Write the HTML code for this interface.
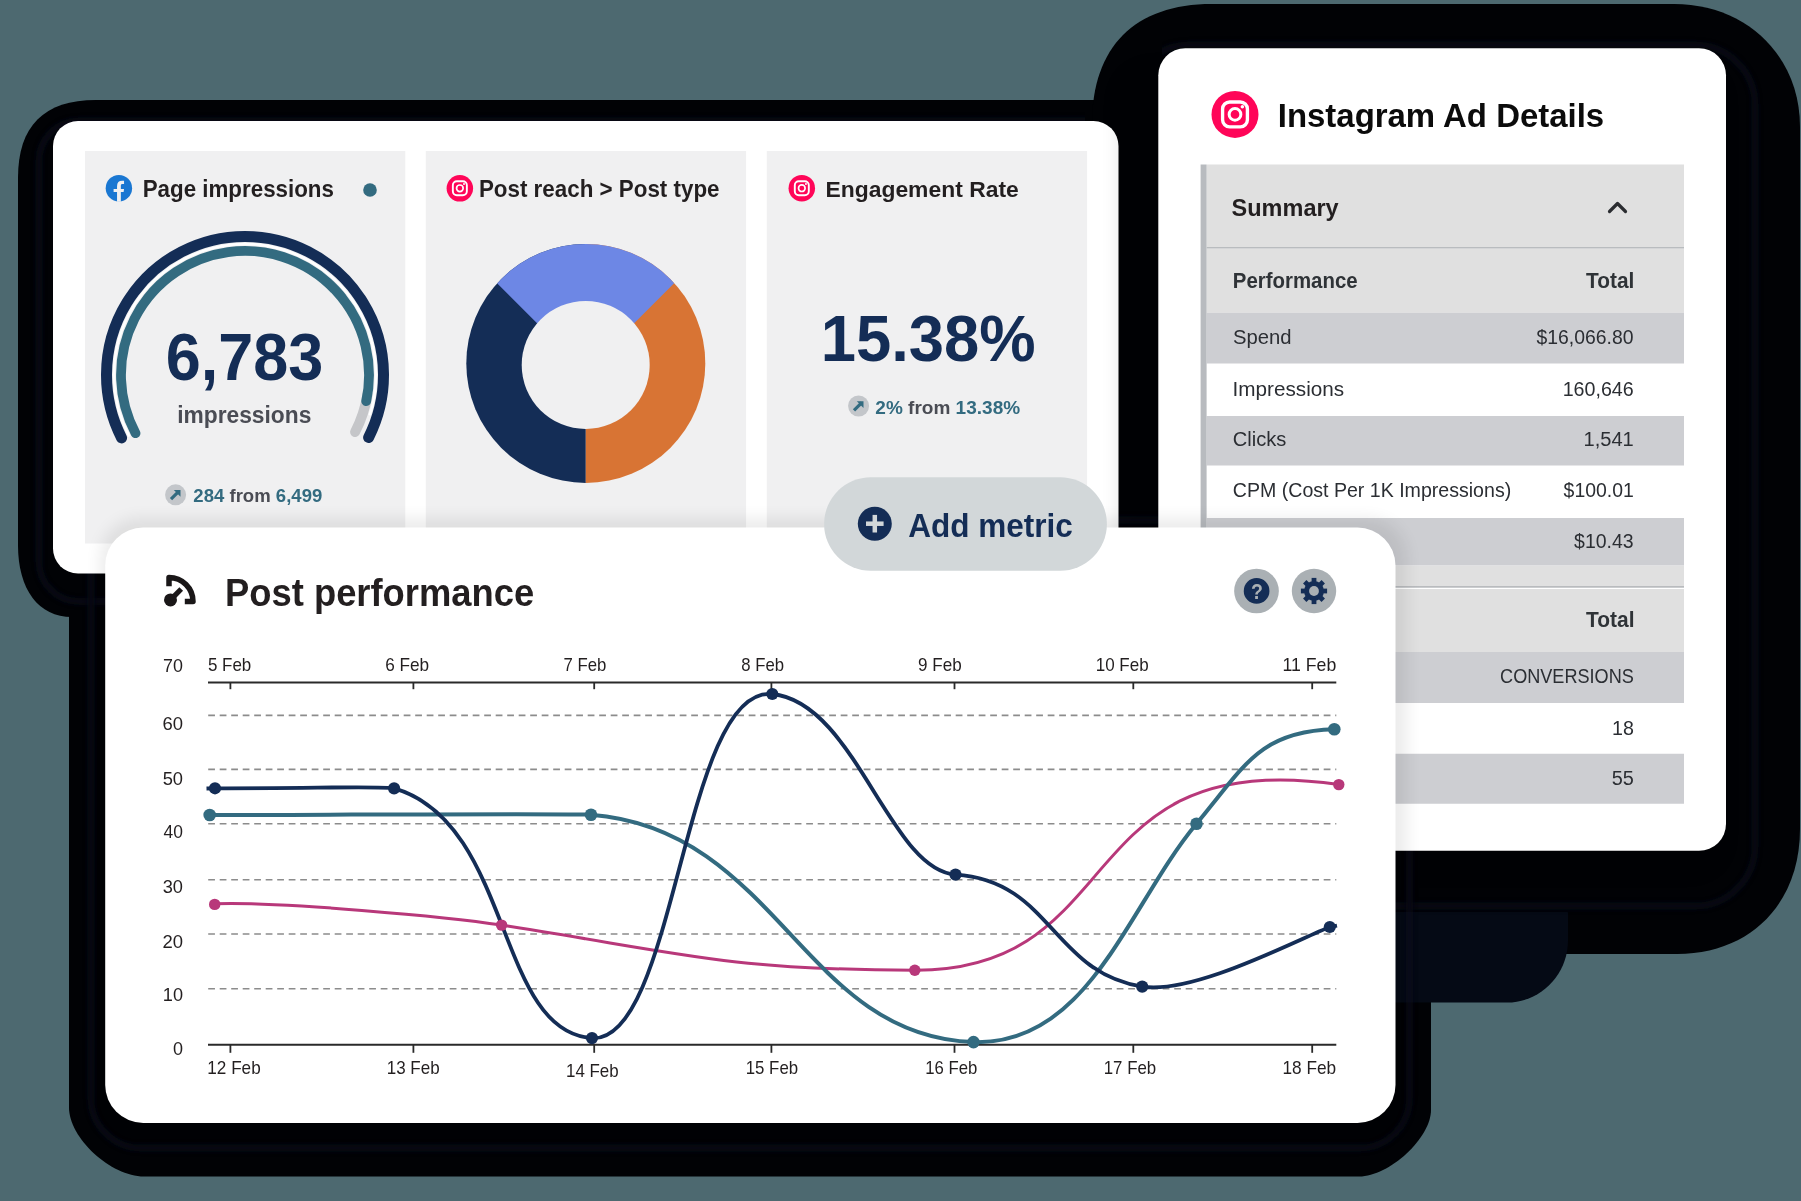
<!DOCTYPE html>
<html><head><meta charset="utf-8"><title>Dashboard</title>
<style>
html,body{margin:0;padding:0;background:#4d6970;}
body{width:1801px;height:1201px;overflow:hidden;}
svg{display:block;font-family:"Liberation Sans",sans-serif;will-change:transform;}
text{-webkit-font-smoothing:antialiased;}
</style></head>
<body>
<svg width="1801" height="1201" viewBox="0 0 1801 1201">
<rect width="1801" height="1201" fill="#4d6970"/>
<path fill="#010205" d="M96.00,100.00 L1120.00,100.00 C1142.00,100.00 1160.00,118.00 1160.00,140.00 L1160.00,577.00 C1160.00,599.00 1142.00,617.00 1120.00,617.00 L72.00,617.00 C38.52,617.00 18.00,589.64 18.00,545.00 L18.00,178.00 C18.00,125.97 43.97,100.00 96.00,100.00Z"/>
<path fill="#010205" d="M1212.00,4.00 L1674.00,4.00 C1746.58,4.00 1800.00,56.15 1800.00,127.00 L1800.00,829.00 C1800.00,903.62 1750.43,954.00 1677.00,954.00 L1172.00,954.00 C1128.00,954.00 1092.00,918.00 1092.00,874.00 L1092.00,124.00 C1092.00,46.72 1134.72,4.00 1212.00,4.00Z"/>
<path fill="#010205" d="M139.00,505.00 L1391.00,505.00 C1413.00,505.00 1431.00,523.00 1431.00,545.00 L1431.00,1110.00 C1431.00,1137.93 1389.24,1176.50 1359.00,1176.50 L144.00,1176.50 C110.70,1176.50 69.00,1138.14 69.00,1107.50 L69.00,575.00 C69.00,536.50 100.50,505.00 139.00,505.00Z"/>
<path fill="#050a15" d="M1396.00,912.00 L1567.00,912.00 C1567.55,912.00 1568.00,912.45 1568.00,913.00 L1568.00,940.50 C1568.00,974.60 1540.55,1002.50 1507.00,1002.50 L1396.00,1002.50 C1395.45,1002.50 1395.00,1002.05 1395.00,1001.50 L1395.00,913.00 C1395.00,912.45 1395.45,912.00 1396.00,912.00Z"/>
<defs><filter id="rb" x="-5%" y="-5%" width="110%" height="110%"><feGaussianBlur stdDeviation="2.2"/></filter></defs>
<defs><clipPath id="c1"><rect x="0" y="0" width="1085" height="1201"/></clipPath><clipPath id="c2"><rect x="1162" y="0" width="700" height="1201"/></clipPath></defs>
<g fill="none" stroke="#07101f" stroke-width="7" opacity="0.6">
<g clip-path="url(#c1)"><rect x="39" y="121" width="1093.5" height="480.5" rx="40" filter="url(#rb)"/></g>
<g clip-path="url(#c2)"><rect x="1129.3" y="45" width="625.7" height="861" rx="60" filter="url(#rb)"/></g>
<rect x="91" y="520" width="1318.5" height="628" rx="50" filter="url(#rb)"/>
</g>
<rect x="53" y="121" width="1065.5" height="452.5" rx="25" fill="#fff"/>
<rect x="85" y="151" width="320.3" height="392.5" fill="#f0f0f1"/>
<rect x="425.8" y="151" width="320.3" height="392.5" fill="#f0f0f1"/>
<rect x="766.8" y="151" width="320.3" height="392.5" fill="#f0f0f1"/>
<defs><filter id="sb2" x="-20%" y="-20%" width="140%" height="140%"><feGaussianBlur stdDeviation="10"/></filter></defs>
<rect x="1121" y="70" width="600" height="800" rx="30" fill="#000" opacity="0.12" filter="url(#sb2)"/>
<rect x="1158.3" y="48.3" width="567.7" height="802.5" rx="27" fill="#fff"/>
<circle cx="118.9" cy="188.2" r="13.2" fill="#1a77d2"/>
<path d="M117.05,201.80 L117.05,192.00 L113.60,192.00 L113.60,189.00 L117.05,189.00 L117.05,186.30 C117.05,182.60 118.90,180.80 122.20,180.80 L124.05,180.80 L124.05,184.00 L122.60,184.00 C121.30,184.00 120.85,184.60 120.85,185.90 L120.85,189.00 L124.05,189.00 L123.60,192.00 L120.85,192.00 L120.85,201.80 Z" fill="#f0f0f1"/>
<text x="142.69" y="196.60" font-size="23.26" font-weight="700" fill="#231f20" textLength="191.24" lengthAdjust="spacingAndGlyphs">Page impressions</text>
<circle cx="370" cy="190" r="6.8" fill="#336b80"/>
<path d="M129.33,436.50 A131,131 0 1 1 369.59,415.48" fill="none" stroke="#ffffff" stroke-width="2.4" stroke-linecap="butt"/>
<path d="M121.60,437.88 A138.5,138.5 0 1 1 368.62,437.45" fill="none" stroke="#142d56" stroke-width="11" stroke-linecap="round"/>
<path d="M367.47,394.40 A124,124 0 0 1 355.09,432.06" fill="none" stroke="#c5c6c9" stroke-width="10" stroke-linecap="round"/>
<path d="M135.51,433.21 A124,124 0 1 1 366.20,401.20" fill="none" stroke="#336b80" stroke-width="9.8" stroke-linecap="round"/>
<text x="165.64" y="380.00" font-size="65.99" font-weight="700" fill="#142d56" textLength="157.57" lengthAdjust="spacingAndGlyphs">6,783</text>
<text x="177.21" y="423.00" font-size="24.55" font-weight="700" fill="#4a4c54" textLength="134.13" lengthAdjust="spacingAndGlyphs">impressions</text>
<circle cx="175.6" cy="494.8" r="10.5" fill="#c3c6ca"/>
<path d="M171.00,499.20 L178.80,491.40" stroke="#336b80" stroke-width="3.2" fill="none"/>
<path d="M173.80,490.00 L180.50,490.00 L180.50,496.70 Z" fill="#336b80"/>
<text x="193.35" y="502.00" font-size="18.02" font-weight="700" fill="#336b80" textLength="128.93" lengthAdjust="spacingAndGlyphs"><tspan fill="#336b80">284 </tspan><tspan fill="#4a4c54">from </tspan><tspan fill="#336b80">6,499</tspan></text>
<circle cx="459.85" cy="188.3" r="13.25" fill="#ff0558"/>
<rect x="452.85" y="181.30" width="14.00" height="14.00" rx="4.00" fill="none" stroke="#fff" stroke-width="1.90"/>
<circle cx="459.85" cy="188.30" r="3.30" fill="none" stroke="#fff" stroke-width="1.70"/>
<circle cx="464.00" cy="184.00" r="1.00" fill="#fff"/>
<text x="478.89" y="196.60" font-size="23.26" font-weight="700" fill="#231f20" textLength="240.68" lengthAdjust="spacingAndGlyphs">Post reach &gt; Post type</text>
<defs><clipPath id="dl"><rect x="455.79999999999995" y="233.39999999999998" width="130" height="260"/></clipPath><clipPath id="dr"><rect x="585.8" y="233.39999999999998" width="130" height="260"/></clipPath><clipPath id="dw"><path d="M585.6,371.8 L385.6,171.8 L785.6,171.8 Z"/></clipPath></defs>
<circle cx="585.8" cy="363.4" r="119.5" fill="#142d56" clip-path="url(#dl)"/>
<circle cx="585.8" cy="363.4" r="119.5" fill="#d87434" clip-path="url(#dr)"/>
<circle cx="585.8" cy="363.4" r="119.5" fill="#6d87e5" clip-path="url(#dw)"/>
<circle cx="585.7" cy="364.9" r="64" fill="#f0f0f1"/>
<circle cx="801.8" cy="188.2" r="13.25" fill="#ff0558"/>
<rect x="794.80" y="181.20" width="14.00" height="14.00" rx="4.00" fill="none" stroke="#fff" stroke-width="1.90"/>
<circle cx="801.80" cy="188.20" r="3.30" fill="none" stroke="#fff" stroke-width="1.70"/>
<circle cx="805.95" cy="183.90" r="1.00" fill="#fff"/>
<text x="825.46" y="197.00" font-size="22.67" font-weight="700" fill="#231f20" textLength="193.32" lengthAdjust="spacingAndGlyphs">Engagement Rate</text>
<text x="820.74" y="360.60" font-size="65.70" font-weight="700" fill="#142d56" textLength="214.95" lengthAdjust="spacingAndGlyphs">15.38%</text>
<circle cx="858.6" cy="406" r="10.5" fill="#c3c6ca"/>
<path d="M854.00,410.40 L861.80,402.60" stroke="#336b80" stroke-width="3.2" fill="none"/>
<path d="M856.80,401.20 L863.50,401.20 L863.50,407.90 Z" fill="#336b80"/>
<text x="875.33" y="413.70" font-size="18.46" font-weight="700" fill="#336b80" textLength="144.79" lengthAdjust="spacingAndGlyphs"><tspan fill="#336b80">2% </tspan><tspan fill="#4a4c54">from </tspan><tspan fill="#336b80">13.38%</tspan></text>
<circle cx="1235" cy="114.4" r="23.5" fill="#ff0558"/>
<rect x="1222.58" y="101.98" width="24.83" height="24.83" rx="7.09" fill="none" stroke="#fff" stroke-width="3.37"/>
<circle cx="1235.00" cy="114.40" r="5.85" fill="none" stroke="#fff" stroke-width="3.02"/>
<circle cx="1242.36" cy="106.77" r="1.77" fill="#fff"/>
<text x="1277.78" y="127.00" font-size="34.01" font-weight="700" fill="#0b0b0b" textLength="326.36" lengthAdjust="spacingAndGlyphs">Instagram Ad Details</text>
<rect x="1206.6" y="164.5" width="477.40" height="82.50" fill="#e0e0e0"/>
<rect x="1206.6" y="247.2" width="477.40" height="1.30" fill="#a9acb0"/>
<rect x="1206.6" y="249" width="477.40" height="63.70" fill="#e0e0e0"/>
<rect x="1206.6" y="312.7" width="477.40" height="51.00" fill="#cdced2"/>
<rect x="1206.6" y="363.7" width="477.40" height="52.30" fill="#fff"/>
<rect x="1206.6" y="416" width="477.40" height="49.70" fill="#cdced2"/>
<rect x="1206.6" y="465.7" width="477.40" height="52.30" fill="#fff"/>
<rect x="1206.6" y="518" width="477.40" height="47.60" fill="#cdced2"/>
<rect x="1206.6" y="565.6" width="477.40" height="21.40" fill="#e0e0e0"/>
<rect x="1206.6" y="586.3" width="477.40" height="1.30" fill="#a9acb0"/>
<rect x="1206.6" y="589" width="477.40" height="63.00" fill="#e0e0e0"/>
<rect x="1206.6" y="652" width="477.40" height="51.00" fill="#cdced2"/>
<rect x="1206.6" y="703" width="477.40" height="50.75" fill="#fff"/>
<rect x="1206.6" y="753.75" width="477.40" height="50.00" fill="#cdced2"/>
<rect x="1200.6" y="164.5" width="6" height="639.25" fill="#b8bbbf"/>
<text x="1231.59" y="216.20" font-size="24.56" font-weight="700" fill="#231f20" textLength="107.13" lengthAdjust="spacingAndGlyphs">Summary</text>
<path d="M1609.5,211.5 L1617.5,203.5 L1625.5,211.5" fill="none" stroke="#2a2c30" stroke-width="3.2" stroke-linecap="round" stroke-linejoin="round"/>
<text x="1232.82" y="288.20" font-size="21.37" font-weight="700" fill="#2f3337" textLength="124.77" lengthAdjust="spacingAndGlyphs">Performance</text>
<text x="1586.09" y="288.20" font-size="21.37" font-weight="700" fill="#2f3337" textLength="48.26" lengthAdjust="spacingAndGlyphs">Total</text>
<text x="1232.89" y="344.20" font-size="20.64" font-weight="400" fill="#2b2e33" textLength="58.61" lengthAdjust="spacingAndGlyphs">Spend</text>
<text x="1536.51" y="344.10" font-size="20.64" font-weight="400" fill="#2b2e33" textLength="97.02" lengthAdjust="spacingAndGlyphs">$16,066.80</text>
<text x="1232.48" y="396.00" font-size="20.64" font-weight="400" fill="#2b2e33" textLength="111.66" lengthAdjust="spacingAndGlyphs">Impressions</text>
<text x="1562.63" y="395.80" font-size="20.64" font-weight="400" fill="#2b2e33" textLength="71.06" lengthAdjust="spacingAndGlyphs">160,646</text>
<text x="1232.80" y="446.10" font-size="20.64" font-weight="400" fill="#2b2e33" textLength="53.59" lengthAdjust="spacingAndGlyphs">Clicks</text>
<text x="1583.49" y="446.10" font-size="20.64" font-weight="400" fill="#2b2e33" textLength="50.26" lengthAdjust="spacingAndGlyphs">1,541</text>
<text x="1232.82" y="497.10" font-size="20.64" font-weight="400" fill="#2b2e33" textLength="278.37" lengthAdjust="spacingAndGlyphs">CPM (Cost Per 1K Impressions)</text>
<text x="1563.61" y="497.10" font-size="20.64" font-weight="400" fill="#2b2e33" textLength="70.16" lengthAdjust="spacingAndGlyphs">$100.01</text>
<text x="1574.11" y="547.50" font-size="20.64" font-weight="400" fill="#2b2e33" textLength="59.55" lengthAdjust="spacingAndGlyphs">$10.43</text>
<text x="1500.10" y="683.20" font-size="20.64" font-weight="400" fill="#2b2e33" textLength="133.72" lengthAdjust="spacingAndGlyphs">CONVERSIONS</text>
<text x="1612.03" y="735.20" font-size="20.64" font-weight="400" fill="#2b2e33" textLength="21.85" lengthAdjust="spacingAndGlyphs">18</text>
<text x="1611.70" y="785.10" font-size="20.64" font-weight="400" fill="#2b2e33" textLength="22.14" lengthAdjust="spacingAndGlyphs">55</text>
<text x="1586.09" y="626.90" font-size="21.37" font-weight="700" fill="#2f3337" textLength="48.47" lengthAdjust="spacingAndGlyphs">Total</text>
<defs><filter id="sb" x="-10%" y="-10%" width="120%" height="120%"><feGaussianBlur stdDeviation="8"/></filter></defs>
<rect x="100" y="518" width="1307" height="612" rx="40" fill="#000" opacity="0.075" filter="url(#sb)"/>
<rect x="105.2" y="527.6" width="1290.3" height="595.4" rx="38" fill="#fff"/>
<path d="M169,586.2 V577.5 A24,24 0 0 1 193,601.5 H184.8" fill="none" stroke="#1a1718" stroke-width="5.5" stroke-linejoin="round"/>
<circle cx="170.5" cy="599.9" r="6.5" fill="#1a1718"/>
<path d="M170.5,599.9 L181.2,589.0" stroke="#1a1718" stroke-width="5.2"/>
<text x="225.05" y="605.50" font-size="38.52" font-weight="700" fill="#231f20" textLength="309.14" lengthAdjust="spacingAndGlyphs">Post performance</text>
<circle cx="1256.5" cy="591" r="22.35" fill="#aab0b4"/>
<circle cx="1256.6" cy="590.9" r="12.85" fill="#142d56"/>
<text x="1250.92" y="599.00" font-size="22.80" font-weight="700" fill="#aab0b4" textLength="11.92" lengthAdjust="spacingAndGlyphs">?</text>
<circle cx="1314" cy="591" r="22.2" fill="#aab0b4"/>
<circle cx="1314" cy="591" r="10" fill="#142d56"/><rect x="1311.6" y="577.9" width="4.8" height="6" fill="#142d56" transform="rotate(0 1314 591)"/><rect x="1311.6" y="577.9" width="4.8" height="6" fill="#142d56" transform="rotate(45 1314 591)"/><rect x="1311.6" y="577.9" width="4.8" height="6" fill="#142d56" transform="rotate(90 1314 591)"/><rect x="1311.6" y="577.9" width="4.8" height="6" fill="#142d56" transform="rotate(135 1314 591)"/><rect x="1311.6" y="577.9" width="4.8" height="6" fill="#142d56" transform="rotate(180 1314 591)"/><rect x="1311.6" y="577.9" width="4.8" height="6" fill="#142d56" transform="rotate(225 1314 591)"/><rect x="1311.6" y="577.9" width="4.8" height="6" fill="#142d56" transform="rotate(270 1314 591)"/><rect x="1311.6" y="577.9" width="4.8" height="6" fill="#142d56" transform="rotate(315 1314 591)"/><circle cx="1314" cy="591" r="4.9" fill="#aab0b4"/>
<line x1="208.2" y1="715.4" x2="1336.3" y2="715.4" stroke="#8c8c8c" stroke-width="1.6" stroke-dasharray="6.75 4.75"/>
<line x1="208.2" y1="769.4" x2="1336.3" y2="769.4" stroke="#8c8c8c" stroke-width="1.6" stroke-dasharray="6.75 4.75"/>
<line x1="208.2" y1="823.8" x2="1336.3" y2="823.8" stroke="#8c8c8c" stroke-width="1.6" stroke-dasharray="6.75 4.75"/>
<line x1="208.2" y1="879.7" x2="1336.3" y2="879.7" stroke="#8c8c8c" stroke-width="1.6" stroke-dasharray="6.75 4.75"/>
<line x1="208.2" y1="934" x2="1336.3" y2="934" stroke="#8c8c8c" stroke-width="1.6" stroke-dasharray="6.75 4.75"/>
<line x1="208.2" y1="988.8" x2="1336.3" y2="988.8" stroke="#8c8c8c" stroke-width="1.6" stroke-dasharray="6.75 4.75"/>
<line x1="208" y1="682.4" x2="1336.3" y2="682.4" stroke="#2a2a2a" stroke-width="2"/>
<line x1="208" y1="1044.7" x2="1336.3" y2="1044.7" stroke="#2a2a2a" stroke-width="2"/>
<line x1="230.4" y1="682" x2="230.4" y2="689.2" stroke="#2a2a2a" stroke-width="1.8"/>
<line x1="230.4" y1="1044" x2="230.4" y2="1052.8" stroke="#2a2a2a" stroke-width="1.8"/>
<line x1="413.4" y1="682" x2="413.4" y2="689.2" stroke="#2a2a2a" stroke-width="1.8"/>
<line x1="413.4" y1="1044" x2="413.4" y2="1052.8" stroke="#2a2a2a" stroke-width="1.8"/>
<line x1="594.2" y1="682" x2="594.2" y2="689.2" stroke="#2a2a2a" stroke-width="1.8"/>
<line x1="594.2" y1="1044" x2="594.2" y2="1052.8" stroke="#2a2a2a" stroke-width="1.8"/>
<line x1="771.4" y1="682" x2="771.4" y2="689.2" stroke="#2a2a2a" stroke-width="1.8"/>
<line x1="771.4" y1="1044" x2="771.4" y2="1052.8" stroke="#2a2a2a" stroke-width="1.8"/>
<line x1="954.5" y1="682" x2="954.5" y2="689.2" stroke="#2a2a2a" stroke-width="1.8"/>
<line x1="954.5" y1="1044" x2="954.5" y2="1052.8" stroke="#2a2a2a" stroke-width="1.8"/>
<line x1="1133.3" y1="682" x2="1133.3" y2="689.2" stroke="#2a2a2a" stroke-width="1.8"/>
<line x1="1133.3" y1="1044" x2="1133.3" y2="1052.8" stroke="#2a2a2a" stroke-width="1.8"/>
<line x1="1312.2" y1="682" x2="1312.2" y2="689.2" stroke="#2a2a2a" stroke-width="1.8"/>
<line x1="1312.2" y1="1044" x2="1312.2" y2="1052.8" stroke="#2a2a2a" stroke-width="1.8"/>
<text x="163.11" y="672.10" font-size="17.88" font-weight="400" fill="#231f20" textLength="19.91" lengthAdjust="spacingAndGlyphs">70</text>
<text x="162.48" y="730.00" font-size="17.88" font-weight="400" fill="#231f20" textLength="20.56" lengthAdjust="spacingAndGlyphs">60</text>
<text x="162.67" y="784.70" font-size="17.88" font-weight="400" fill="#231f20" textLength="20.36" lengthAdjust="spacingAndGlyphs">50</text>
<text x="163.61" y="838.30" font-size="17.88" font-weight="400" fill="#231f20" textLength="19.39" lengthAdjust="spacingAndGlyphs">40</text>
<text x="162.72" y="892.70" font-size="17.88" font-weight="400" fill="#231f20" textLength="20.31" lengthAdjust="spacingAndGlyphs">30</text>
<text x="162.48" y="947.50" font-size="17.88" font-weight="400" fill="#231f20" textLength="20.56" lengthAdjust="spacingAndGlyphs">20</text>
<text x="162.84" y="1001.00" font-size="17.88" font-weight="400" fill="#231f20" textLength="20.18" lengthAdjust="spacingAndGlyphs">10</text>
<text x="172.98" y="1055.40" font-size="17.88" font-weight="400" fill="#231f20" textLength="10.02" lengthAdjust="spacingAndGlyphs">0</text>
<text x="207.92" y="671.00" font-size="17.88" font-weight="400" fill="#231f20" textLength="43.40" lengthAdjust="spacingAndGlyphs">5 Feb</text>
<text x="385.14" y="671.00" font-size="17.88" font-weight="400" fill="#231f20" textLength="43.99" lengthAdjust="spacingAndGlyphs">6 Feb</text>
<text x="563.46" y="671.00" font-size="17.88" font-weight="400" fill="#231f20" textLength="42.85" lengthAdjust="spacingAndGlyphs">7 Feb</text>
<text x="741.29" y="671.00" font-size="17.88" font-weight="400" fill="#231f20" textLength="42.72" lengthAdjust="spacingAndGlyphs">8 Feb</text>
<text x="918.09" y="671.00" font-size="17.88" font-weight="400" fill="#231f20" textLength="43.63" lengthAdjust="spacingAndGlyphs">9 Feb</text>
<text x="1095.72" y="671.00" font-size="17.88" font-weight="400" fill="#231f20" textLength="52.97" lengthAdjust="spacingAndGlyphs">10 Feb</text>
<text x="1282.47" y="671.00" font-size="17.88" font-weight="400" fill="#231f20" textLength="53.76" lengthAdjust="spacingAndGlyphs">11 Feb</text>
<text x="207.31" y="1073.80" font-size="17.88" font-weight="400" fill="#231f20" textLength="53.39" lengthAdjust="spacingAndGlyphs">12 Feb</text>
<text x="386.72" y="1073.80" font-size="17.88" font-weight="400" fill="#231f20" textLength="52.97" lengthAdjust="spacingAndGlyphs">13 Feb</text>
<text x="566.03" y="1076.50" font-size="17.88" font-weight="400" fill="#231f20" textLength="52.66" lengthAdjust="spacingAndGlyphs">14 Feb</text>
<text x="745.74" y="1073.80" font-size="17.88" font-weight="400" fill="#231f20" textLength="52.35" lengthAdjust="spacingAndGlyphs">15 Feb</text>
<text x="925.24" y="1073.80" font-size="17.88" font-weight="400" fill="#231f20" textLength="52.14" lengthAdjust="spacingAndGlyphs">16 Feb</text>
<text x="1103.74" y="1073.80" font-size="17.88" font-weight="400" fill="#231f20" textLength="52.45" lengthAdjust="spacingAndGlyphs">17 Feb</text>
<text x="1282.51" y="1073.80" font-size="17.88" font-weight="400" fill="#231f20" textLength="53.70" lengthAdjust="spacingAndGlyphs">18 Feb</text>
<path d="M214.70,903.80 C277.78,901.34 448.47,916.76 501.60,925.10 C699.49,956.17 727.28,969.49 914.80,970.20 C1130.95,971.02 1068.49,744.50 1338.80,784.60" fill="none" stroke="#b8387a" stroke-width="3"/>
<path d="M209.70,815.00 C313.75,815.00 571.13,813.14 591.00,814.70 C777.84,829.38 802.10,1036.40 973.50,1042.10 C1089.00,1045.94 1128.86,904.48 1196.50,823.70 C1244.04,766.93 1258.65,731.19 1334.30,729.20" fill="none" stroke="#336b80" stroke-width="4"/>
<path d="M206.50,788.50 L215.00,788.30 C316.54,788.30 385.50,785.92 394.10,788.40 C513.01,822.67 495.30,1031.90 592.00,1038.10 C676.36,1043.51 682.98,684.92 772.30,694.00 C855.53,702.46 889.57,870.44 955.50,874.60 C1051.50,880.66 1051.81,972.27 1142.20,986.60 C1193.08,994.67 1293.12,941.68 1329.80,927.00 L1337.00,925.60" fill="none" stroke="#142d56" stroke-width="3.8"/>
<circle cx="214.7" cy="904.4" r="5.7" fill="#b8387a"/>
<circle cx="501.6" cy="925.1" r="5.7" fill="#b8387a"/>
<circle cx="914.8" cy="970.2" r="5.7" fill="#b8387a"/>
<circle cx="1338.8" cy="784.6" r="5.7" fill="#b8387a"/>
<circle cx="209.7" cy="815" r="6.3" fill="#336b80"/>
<circle cx="591" cy="814.7" r="6.3" fill="#336b80"/>
<circle cx="973.5" cy="1042.1" r="6.3" fill="#336b80"/>
<circle cx="1196.5" cy="823.7" r="6.3" fill="#336b80"/>
<circle cx="1334.3" cy="729.2" r="6.3" fill="#336b80"/>
<circle cx="215" cy="788.3" r="6.1" fill="#142d56"/>
<circle cx="394.1" cy="788.4" r="6.1" fill="#142d56"/>
<circle cx="592" cy="1038.1" r="6.1" fill="#142d56"/>
<circle cx="772.3" cy="694" r="6.1" fill="#142d56"/>
<circle cx="955.5" cy="874.6" r="6.1" fill="#142d56"/>
<circle cx="1142.2" cy="986.6" r="6.1" fill="#142d56"/>
<circle cx="1329.8" cy="927" r="6.1" fill="#142d56"/>
<rect x="824.1" y="477.2" width="282.8" height="93.5" rx="46.75" fill="#d2d7d9"/>
<circle cx="874.8" cy="523.7" r="17" fill="#142d56"/>
<rect x="866" y="521.45" width="17.6" height="4.5" fill="#d2d7d9"/><rect x="872.55" y="514.9" width="4.5" height="17.6" fill="#d2d7d9"/>
<text x="908.21" y="537.00" font-size="33.43" font-weight="700" fill="#142d56" textLength="164.68" lengthAdjust="spacingAndGlyphs">Add metric</text>
</svg>
</body></html>
